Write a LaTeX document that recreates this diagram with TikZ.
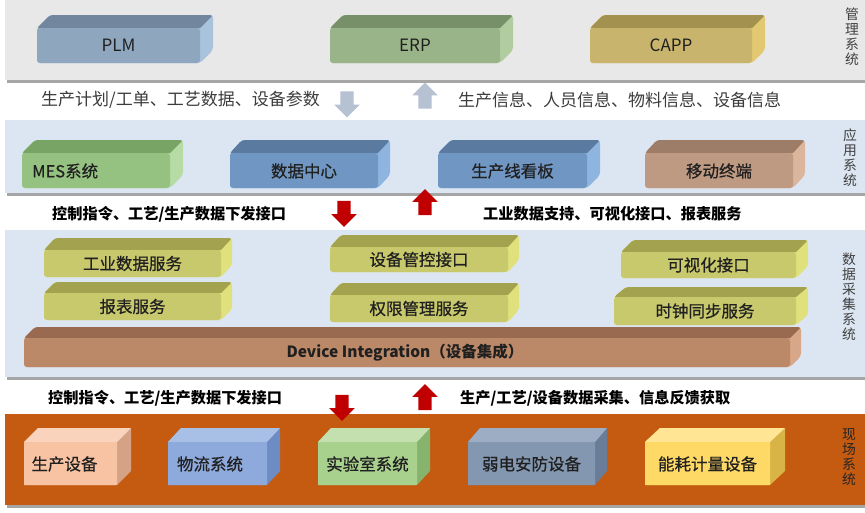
\documentclass[tikz,border=0pt]{standalone}
\usepackage{fontspec}
\setmainfont{Noto Sans CJK SC}
\newfontfamily\medfont{Noto Sans CJK SC}[FakeBold=0.6]
\usetikzlibrary{shapes.arrows}
\definecolor{bandgray}{HTML}{E8E8E8}
\definecolor{bandblue}{HTML}{DCE6F2}
\definecolor{bandorange}{HTML}{C55A11}
\definecolor{shadowgray}{HTML}{A6A6A6}
\definecolor{arrgray}{HTML}{B6C1D1}
\definecolor{arrred}{HTML}{C00000}
\definecolor{txtdark}{HTML}{202020}
\definecolor{rowgray}{HTML}{3C3C3C}
\definecolor{sidegray}{HTML}{404040}
\definecolor{plmF}{HTML}{8FA6BF}\definecolor{plmT}{HTML}{72869E}\definecolor{plmS}{HTML}{A9C3DD}
\definecolor{erpF}{HTML}{9AB489}\definecolor{erpT}{HTML}{78906A}\definecolor{erpS}{HTML}{B1CDA0}
\definecolor{cappF}{HTML}{C8B46C}\definecolor{cappT}{HTML}{A2914F}\definecolor{cappS}{HTML}{E2C971}
\definecolor{mesF}{HTML}{95C281}\definecolor{mesT}{HTML}{78A566}\definecolor{mesS}{HTML}{B7DBA5}
\definecolor{blueF}{HTML}{7097C3}\definecolor{blueT}{HTML}{5A7A9F}\definecolor{blueS}{HTML}{8DB5E0}
\definecolor{mobF}{HTML}{BF9A82}\definecolor{mobT}{HTML}{9E7D68}\definecolor{mobS}{HTML}{DBB59C}
\definecolor{dsF}{HTML}{C8C86C}\definecolor{dsT}{HTML}{A2A24F}\definecolor{dsS}{HTML}{E0E07C}
\definecolor{diF}{HTML}{BC8968}\definecolor{diT}{HTML}{996A4F}\definecolor{diS}{HTML}{D8A688}
\definecolor{pkF}{HTML}{F8C3A3}\definecolor{pkT}{HTML}{F9D3BB}\definecolor{pkS}{HTML}{D6A286}
\definecolor{lbF}{HTML}{8EAADC}\definecolor{lbT}{HTML}{A9C0E6}\definecolor{lbS}{HTML}{6E8CC4}
\definecolor{lgF}{HTML}{A9D18E}\definecolor{lgT}{HTML}{C3E0AE}\definecolor{lgS}{HTML}{86B46C}
\definecolor{slF}{HTML}{8497B0}\definecolor{slT}{HTML}{9DAEC4}\definecolor{slS}{HTML}{6A7D98}
\definecolor{ylF}{HTML}{FFD966}\definecolor{ylT}{HTML}{FFE594}\definecolor{ylS}{HTML}{D8B447}
% 3D box: x1, y1 (front top), x2, y2 (front bottom), dx, dy, colour prefix, corner radius
\newcommand{\threedbox}[8]{%
  \begin{scope}
    \clip[rounded corners=#8] (#1,#4) -- (#1,#2) -- (#1+#5,#2-#6) -- (#3+#5,#2-#6) -- (#3+#5,#4-#6) -- (#3,#4) -- cycle;
    \fill[#7S] (#1-2,#2-#6-2) rectangle (#3+#5+2,#4+2);
    \fill[#7T] (#1,#2) -- (#1+#5,#2-#6) -- (#3+#5,#2-#6) -- (#3,#2) -- cycle;
    \fill[#7F, rounded corners=#8] (#1,#2) rectangle (#3,#4);
  \end{scope}}
\tikzset{
  boxtxt/.style={font=\medfont\fontsize{16.5}{18}\selectfont, text=txtdark, inner sep=0pt},
  lattxt/.style={font=\fontsize{17}{19}\selectfont, text=txtdark, inner sep=0pt},
  rowtxt/.style={font=\fontsize{17}{19}\selectfont, text=rowgray, inner sep=0pt},
  boldtxt/.style={font=\bfseries\fontsize{15.2}{17}\selectfont, text=black, inner sep=0pt},
  sidelbl/.style={font=\fontsize{13.8}{15}\selectfont, text=sidegray, align=center, inner sep=0pt},
  blockarrow/.style={single arrow, draw=none, inner sep=6.5pt, single arrow head extend=6pt,
    single arrow head indent=0pt, minimum height=26pt},
  grayarrow/.style={blockarrow, fill=arrgray},
  redarrow/.style={blockarrow, fill=arrred},
}
\begin{document}
\begin{tikzpicture}[x=1pt,y=-1pt]
\useasboundingbox (0,0) rectangle (865,512);
\fill[white] (0,0) rectangle (865,512);
% bands
\fill[shadowgray] (7,2) rectangle (865,82.5);
\fill[bandgray] (5,0) rectangle (865,80);
\fill[shadowgray] (7,122) rectangle (865,195.5);
\fill[bandblue] (5,120) rectangle (865,193);
\fill[shadowgray] (7,232) rectangle (865,379.5);
\fill[bandblue] (5,230) rectangle (865,377);
\fill[shadowgray] (7,416) rectangle (865,507.5);
\fill[bandorange] (5,414) rectangle (865,505);
% side labels
\node[sidelbl] (lbl-mgmt) at (852,37) {管\\理\\系\\统};
\node[sidelbl] (lbl-app) at (850,158) {应\\用\\系\\统};
\node[sidelbl] (lbl-daq) at (849,297) {数\\据\\采\\集\\系\\统};
\node[sidelbl, text=black!85] (lbl-field) at (849,457) {现\\场\\系\\统};
% management boxes
\threedbox{37}{28}{200}{63}{13}{13}{plm}{3pt}
\node[lattxt] (plm) at (118.5,45.5) {PLM};
\threedbox{330}{28}{500}{63}{13}{13}{erp}{3pt}
\node[lattxt] (erp) at (415,45.5) {ERP};
\threedbox{590}{28}{752}{63}{13}{13}{capp}{3pt}
\node[lattxt] (capp) at (671,45.5) {CAPP};
% row 1
\node[rowtxt, anchor=west] (row1-left) at (41,100) {生产计划/工单、工艺数据、设备参数};
\node[rowtxt, anchor=west] (row1-right) at (458,100) {生产信息、人员信息、物料信息、设备信息};
\node[grayarrow, rotate=-90] (row1-down) at (347,101) {};
\node[grayarrow, rotate=90] (row1-up) at (425,99) {};
% application boxes
\threedbox{22}{153}{170}{188}{13}{13}{mes}{3pt}
\node[boxtxt, anchor=west] (mes) at (32,171) {MES系统};
\threedbox{230}{153}{378}{188}{12}{13}{blue}{3pt}
\node[boxtxt] (datacenter) at (304,171) {数据中心};
\threedbox{438}{153}{587}{188}{13}{13}{blue}{3pt}
\node[boxtxt] (kanban) at (512.5,171) {生产线看板};
\threedbox{645}{153}{793}{188}{12}{13}{mob}{3pt}
\node[boxtxt] (mobile) at (719,171) {移动终端};
% row 2
\node[boldtxt, anchor=west] (row2-left) at (52,214) {控制指令、工艺/生产数据下发接口};
\node[boldtxt, anchor=west] (row2-right) at (483,214) {工业数据支持、可视化接口、报表服务};
\node[redarrow, rotate=-90] (row2-down) at (344,210.5) {};
\node[redarrow, rotate=90] (row2-up) at (425,205.5) {};
% data acquisition boxes
\threedbox{44}{250}{221}{277}{11}{12}{ds}{3pt}
\node[boxtxt] (svc-data) at (132.5,263.5) {工业数据服务};
\threedbox{44}{293}{221}{320}{11}{11}{ds}{3pt}
\node[boxtxt] (svc-report) at (132.5,306.5) {报表服务};
\threedbox{330}{247}{508}{272}{11}{12}{ds}{3pt}
\node[boxtxt] (svc-ctrl) at (419,259.5) {设备管控接口};
\threedbox{330}{295}{508}{322}{11}{12}{ds}{3pt}
\node[boxtxt] (svc-auth) at (419,308.5) {权限管理服务};
\threedbox{621}{252}{796}{278}{12}{12}{ds}{3pt}
\node[boxtxt] (svc-vis) at (708.5,265) {可视化接口};
\threedbox{614}{297}{796}{325}{12}{10}{ds}{3pt}
\node[boxtxt] (svc-clock) at (705,311) {时钟同步服务};
\threedbox{24}{338}{790}{367}{11}{11}{di}{3pt}
\node[boxtxt, font=\bfseries\fontsize{15.5}{17}\selectfont] (devint) at (405,352.5) {Device Integration（设备集成）};
% row 3
\node[boldtxt, anchor=west] (row3-left) at (48,398) {控制指令、工艺/生产数据下发接口};
\node[boldtxt, anchor=west] (row3-right) at (460,398) {生产/工艺/设备数据采集、信息反馈获取};
\node[redarrow, rotate=-90] (row3-down) at (342,404.5) {};
\node[redarrow, rotate=90] (row3-up) at (425,400.5) {};
% field cubes
\threedbox{24}{442}{117}{485}{14}{14}{pk}{0.5pt}
\node[boxtxt] (dev-prod) at (64.5,464) {生产设备};
\threedbox{168}{442}{267}{485}{13}{14}{lb}{0.5pt}
\node[boxtxt] (dev-logi) at (210,464) {物流系统};
\threedbox{318}{442}{417}{485}{13}{14}{lg}{0.5pt}
\node[boxtxt] (dev-lab) at (367.5,464) {实验室系统};
\threedbox{468}{442}{595}{485}{12}{14}{sl}{0.5pt}
\node[boxtxt] (dev-sec) at (531.5,464) {弱电安防设备};
\threedbox{645}{442}{770}{485}{15}{14}{yl}{0.5pt}
\node[boxtxt] (dev-energy) at (707.5,464) {能耗计量设备};
\end{tikzpicture}
\end{document}
